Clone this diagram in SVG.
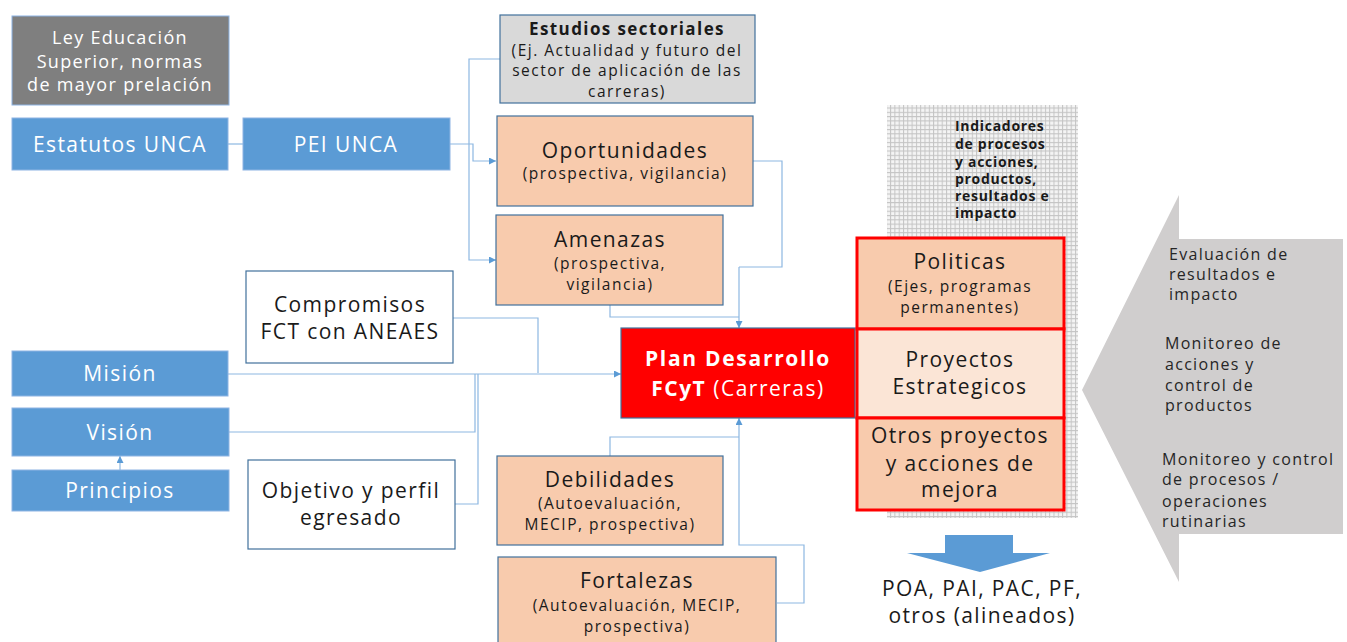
<svg xmlns="http://www.w3.org/2000/svg" width="1347" height="642" viewBox="0 0 1347 642">
<style>
text{font-family:"Open Sans","Liberation Sans",sans-serif;fill:#1a1a1a;text-anchor:middle}
.w{fill:#ffffff}
.b{font-weight:bold}
.blue{fill:#5b9bd5;stroke:#8eb4e3;stroke-width:1}
.peach{fill:#f8cbad;stroke:#41719c;stroke-width:1.2}
.white{fill:#ffffff;stroke:#41719c;stroke-width:1.2}
.redbox{fill:#f8cbad;stroke:#ff0000;stroke-width:3}
.conn{fill:none;stroke:#8db7e2;stroke-width:1.2}
.t21{font-size:21px;letter-spacing:1.4px}
.t16{font-size:15.5px;letter-spacing:1.5px}
.t18{font-size:18px;letter-spacing:1.3px}
.side{font-size:16px;letter-spacing:1.3px;text-anchor:start;fill:#262626}
.ind{font-size:14px;letter-spacing:0.7px;font-weight:bold;text-anchor:start}
</style>
<defs>
<marker id="ah" viewBox="0 0 10 10" refX="10" refY="5" markerWidth="7" markerHeight="7" markerUnits="userSpaceOnUse" orient="auto">
<path d="M0,0 L10,5 L0,10 z" fill="#5b9bd5"/>
</marker>
<pattern id="grid" width="4.3" height="4.3" patternUnits="userSpaceOnUse">
<rect width="4.3" height="4.3" fill="#f4f4f4"/>
<path d="M0,0.5H4.3M0.5,0V4.3" stroke="#c4c4c4" stroke-width="1"/>
</pattern>
</defs>
<g id="connectors">
<path class="conn" d="M228,144 H243"/>
<path class="conn" d="M500,59 H469 V260 H496" marker-end="url(#ah)"/>
<path class="conn" d="M450,144 H473 V161 H496" marker-end="url(#ah)"/>
<path class="conn" d="M753,161 H782 V267 H739"/>
<path class="conn" d="M610,305 V317 H739"/>
<path class="conn" d="M739,267 V328" marker-end="url(#ah)"/>
<path class="conn" d="M453,318 H538 V373"/>
<path class="conn" d="M228,374 H621" marker-end="url(#ah)"/>
<path class="conn" d="M229,432 H475 V374"/>
<path class="conn" d="M455,504 H478 V374"/>
<path class="conn" d="M120,470 V456" marker-end="url(#ah)"/>
<path class="conn" d="M610,456 V437 H739"/>
<path class="conn" d="M777,603 H804 V545 H739 V418" marker-end="url(#ah)"/>
</g>
<g id="ley">
<rect x="12" y="16" width="217" height="89" fill="#7f7f7f" stroke="#8eb4e3" stroke-width="1"/>
<text class="w t18" x="120" y="44">Ley Educación</text>
<text class="w t18" x="120" y="68">Superior, normas</text>
<text class="w t18" x="120" y="91">de mayor prelación</text>
</g>
<g id="estatutos">
<rect class="blue" x="12" y="118" width="216" height="52"/>
<text class="w t21" x="120" y="152">Estatutos UNCA</text>
</g>
<g id="pei">
<rect class="blue" x="243" y="118" width="207" height="52"/>
<text class="w t21" x="346" y="152">PEI UNCA</text>
</g>
<g id="estudios">
<rect x="500" y="15" width="255" height="88" fill="#d9d9d9" stroke="#41719c" stroke-width="1.2"/>
<text class="b" x="627" y="35" font-size="17" letter-spacing="1.4">Estudios sectoriales</text>
<text class="t16" x="627" y="56">(Ej. Actualidad y futuro del</text>
<text class="t16" x="627" y="76">sector de aplicación de las</text>
<text class="t16" x="627" y="97">carreras)</text>
</g>
<g id="oportunidades">
<rect class="peach" x="497" y="116" width="256" height="90"/>
<text class="t21" x="625" y="158">Oportunidades</text>
<text class="t16" x="625" y="179">(prospectiva, vigilancia)</text>
</g>
<g id="amenazas">
<rect class="peach" x="496" y="215" width="227" height="90"/>
<text class="t21" x="610" y="247">Amenazas</text>
<text class="t16" x="610" y="269">(prospectiva,</text>
<text class="t16" x="610" y="290">vigilancia)</text>
</g>
<g id="compromisos">
<rect class="white" x="246" y="271" width="207" height="92"/>
<text class="t21" x="350" y="312">Compromisos</text>
<text class="t21" x="350" y="339">FCT con ANEAES</text>
</g>
<g id="mision">
<rect class="blue" x="12" y="351" width="216" height="45"/>
<text class="w t21" x="120" y="381">Misión</text>
</g>
<g id="vision">
<rect class="blue" x="12" y="408" width="217" height="48"/>
<text class="w t21" x="120" y="440">Visión</text>
</g>
<g id="principios">
<rect class="blue" x="12" y="470" width="217" height="41"/>
<text class="w t21" x="120" y="498">Principios</text>
</g>
<g id="objetivo">
<rect class="white" x="248" y="460" width="207" height="89"/>
<text class="t21" x="351" y="498">Objetivo y perfil</text>
<text class="t21" x="351" y="525">egresado</text>
</g>
<g id="plan">
<rect x="621" y="328" width="234" height="90" fill="#ff0000" stroke="#41719c" stroke-width="1.2"/>
<text class="w b" x="738" y="366" font-size="21" letter-spacing="1.7">Plan Desarrollo</text>
<text class="w" x="738" y="396" font-size="21" letter-spacing="1.5"><tspan font-weight="bold">FCyT</tspan> (Carreras)</text>
</g>
<g id="debilidades">
<rect class="peach" x="497" y="456" width="226" height="89"/>
<text class="t21" x="610" y="487">Debilidades</text>
<text class="t16" x="610" y="509">(Autoevaluación,</text>
<text class="t16" x="610" y="530">MECIP, prospectiva)</text>
</g>
<g id="fortalezas">
<rect class="peach" x="498" y="557" width="278" height="90"/>
<text class="t21" x="637" y="588">Fortalezas</text>
<text class="t16" x="637" y="611">(Autoevaluación, MECIP,</text>
<text class="t16" x="637" y="632">prospectiva)</text>
</g>
<g id="indicadores">
<rect x="887" y="105" width="191" height="413" fill="url(#grid)"/>
<text class="ind" x="955" y="131">Indicadores</text>
<text class="ind" x="955" y="149">de procesos</text>
<text class="ind" x="955" y="167">y acciones,</text>
<text class="ind" x="955" y="184">productos,</text>
<text class="ind" x="955" y="201">resultados e</text>
<text class="ind" x="955" y="218">impacto</text>
</g>
<g id="politicas">
<rect class="redbox" x="857" y="238" width="207" height="91"/>
<text class="t21" x="960" y="269">Politicas</text>
<text class="t16" x="960" y="292">(Ejes, programas</text>
<text class="t16" x="960" y="313">permanentes)</text>
</g>
<g id="proyectos">
<rect class="redbox" x="857" y="329" width="207" height="89" style="fill:#fbe5d6"/>
<text class="t21" x="960" y="367">Proyectos</text>
<text class="t21" x="960" y="394">Estrategicos</text>
</g>
<g id="otros">
<rect class="redbox" x="857" y="418" width="207" height="92"/>
<text class="t21" x="960" y="443">Otros proyectos</text>
<text class="t21" x="960" y="471">y acciones de</text>
<text class="t21" x="960" y="497">mejora</text>
</g>
<g id="salida">
<path d="M945,535 H1013 V553 H1050 L980,572 L907,553 H945 Z" fill="#5b9bd5"/>
<text class="t21" x="982" y="596">POA, PAI, PAC, PF,</text>
<text class="t21" x="982" y="623">otros (alineados)</text>
</g>
<g id="seguimiento">
<path d="M1179,195 V239 H1343 V534 H1179 V582 L1082,390 Z" fill="#d0cece"/>
<text class="side" x="1169" y="260">Evaluación de</text>
<text class="side" x="1169" y="280">resultados e</text>
<text class="side" x="1169" y="300">impacto</text>
<text class="side" x="1165" y="349">Monitoreo de</text>
<text class="side" x="1165" y="370">acciones y</text>
<text class="side" x="1165" y="391">control de</text>
<text class="side" x="1165" y="411">productos</text>
<text class="side" x="1162" y="465">Monitoreo y control</text>
<text class="side" x="1162" y="485">de procesos /</text>
<text class="side" x="1162" y="507">operaciones</text>
<text class="side" x="1162" y="527">rutinarias</text>
</g>
</svg>
